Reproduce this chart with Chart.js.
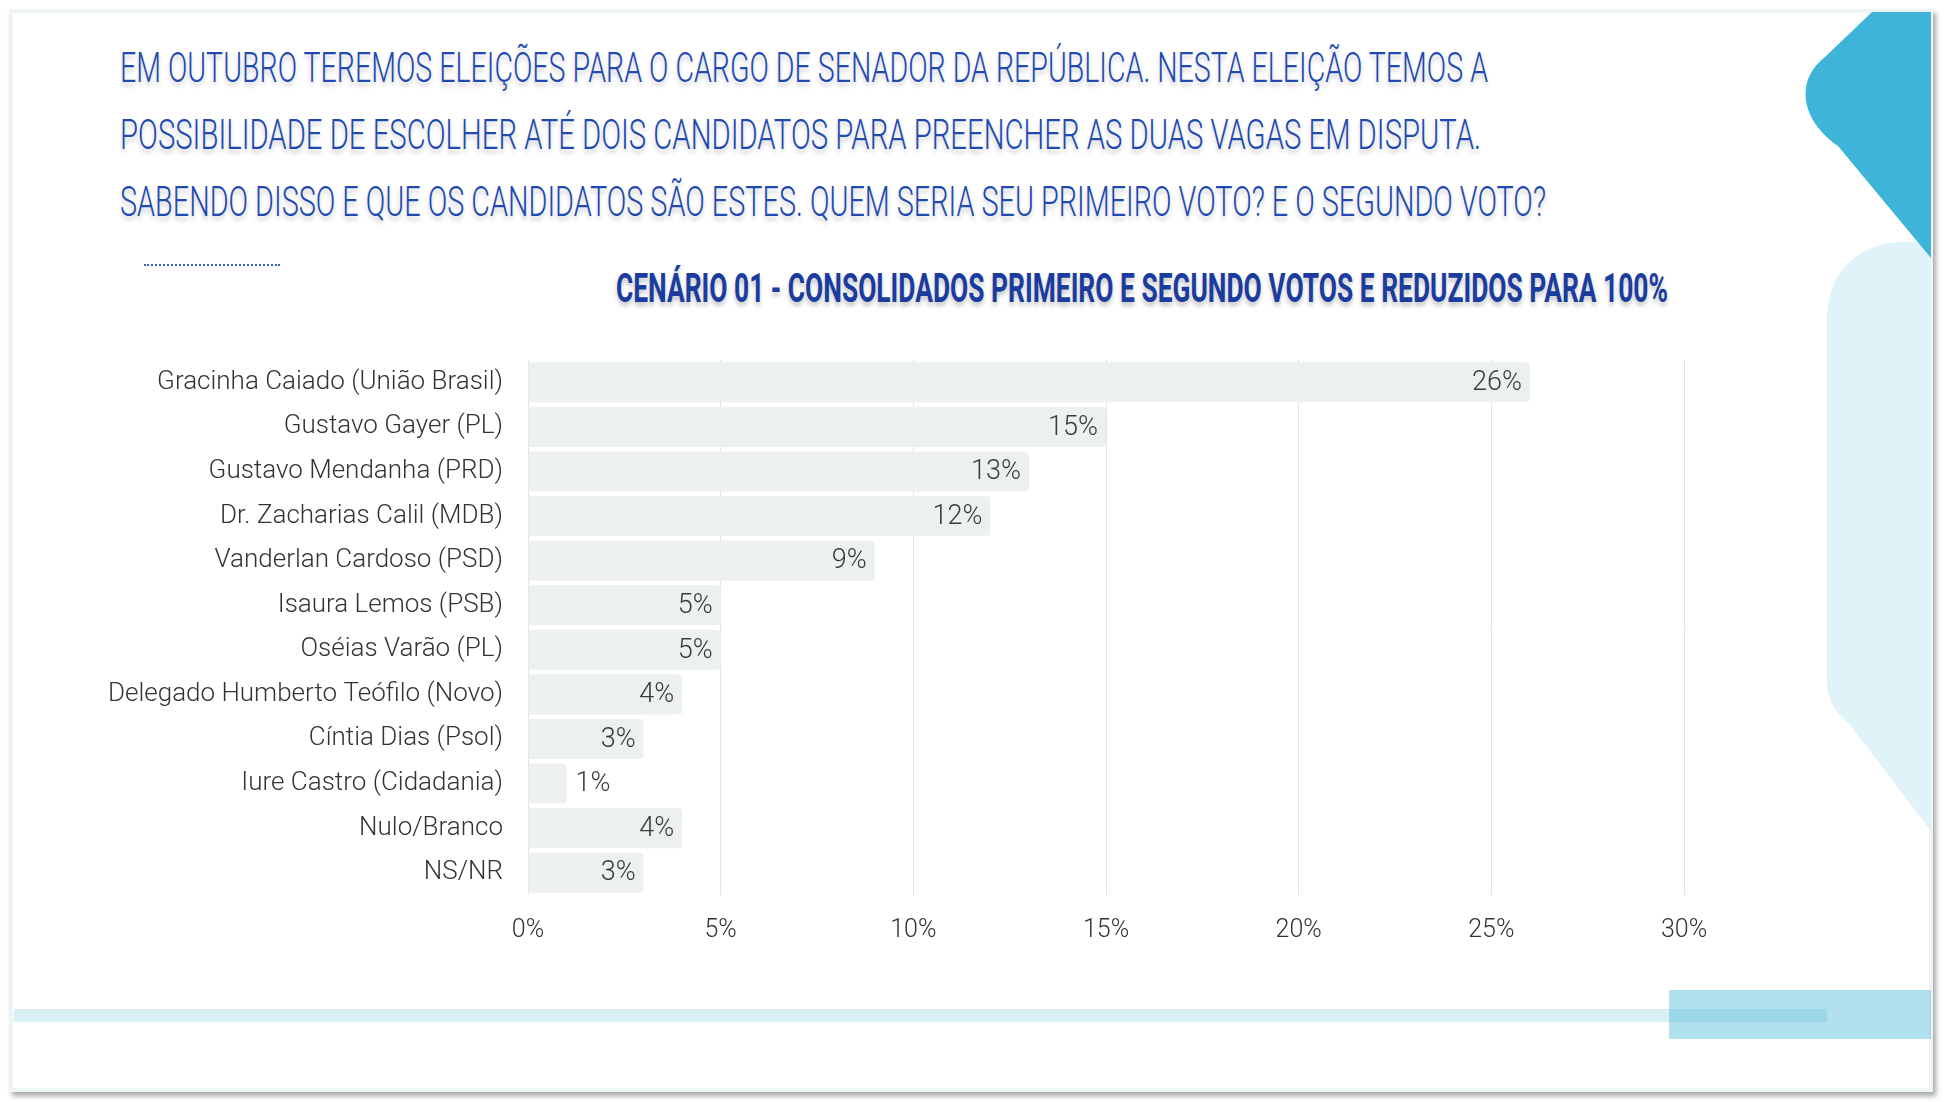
<!DOCTYPE html>
<html>
<head>
<meta charset="utf-8">
<script src="https://cdn.jsdelivr.net/npm/chart.js@4.4.1/dist/chart.umd.min.js"></script>
<style>
    html, body { margin: 0; padding: 0; background: #fff; }
    #page { position: relative; width: 1944px; height: 1102px; overflow: hidden; background: #fff; }
    #slide {
        position: absolute; left: 9px; top: 9px; width: 1916px; height: 1075px;
        border: 4px solid #eef3f5; background: #fff;
        box-shadow: 3px 4px 5px rgba(0, 0, 0, 0.35);
    }
    #deco { position: absolute; left: 0; top: 0; }
    .q {
        position: absolute; left: 120px; white-space: nowrap;
        font-family: "Roboto", "Liberation Sans Narrow", sans-serif;
        font-weight: 300; font-size: 42px; color: #2149b2; line-height: 1;
        text-shadow: 0 4px 5px rgba(0, 0, 0, 0.2);
        transform-origin: 0 50%;
    }
    #titulo {
        position: absolute; white-space: nowrap;
        font-family: "Roboto", "Liberation Sans Narrow", sans-serif;
        font-weight: bold; font-size: 41px; color: #1b3c9f; line-height: 1;
        text-shadow: 0 4px 5px rgba(0, 0, 0, 0.22);
        transform-origin: 0 50%;
    }
    #pontos { position: absolute; left: 144px; top: 264px; width: 136px; border-top: 2px dotted #3c5fc2; }
    #myChart { position: absolute; left: 0; top: 340px; }
</style>
</head>
<body>
<div id="page">
    <div id="slide"></div>
    <svg id="deco" width="1944" height="1102">
        <path d="M1931,242 L1905,242 C1860,242 1827,270 1827,320 L1827,680 C1827,700 1835,712 1850,725 L1931,831 Z" fill="#e0f3f8"/>
        <path d="M1872,12 L1931,12 L1931,258 L1838,146 C1800,120 1795,80 1825,57 Z" fill="#3db4d8"/>
        <rect x="14" y="1009" width="1813" height="13" fill="#d8eff5"/>
        <rect x="1669" y="990" width="262" height="49" fill="rgba(78,186,214,0.44)"/>
    </svg>
    <div class="q" id="l1" data-w="1368" style="top:47px">EM OUTUBRO TEREMOS ELEIÇÕES PARA O CARGO DE SENADOR DA REPÚBLICA. NESTA ELEIÇÃO TEMOS A</div>
    <div class="q" id="l2" data-w="1361" style="top:114px">POSSIBILIDADE DE ESCOLHER ATÉ DOIS CANDIDATOS PARA PREENCHER AS DUAS VAGAS EM DISPUTA.</div>
    <div class="q" id="l3" data-w="1426" style="top:181px">SABENDO DISSO E QUE OS CANDIDATOS SÃO ESTES. QUEM SERIA SEU PRIMEIRO VOTO? E O SEGUNDO VOTO?</div>
    <div id="pontos"></div>
    <div id="titulo" data-w="1052">CENÁRIO 01 - CONSOLIDADOS PRIMEIRO E SEGUNDO VOTOS E REDUZIDOS PARA 100%</div>
    <canvas id="myChart" width="1944" height="620"></canvas>
</div>

<script>
    const candidatos = [
        'Gracinha Caiado (União Brasil)',
        'Gustavo Gayer (PL)',
        'Gustavo Mendanha (PRD)',
        'Dr. Zacharias Calil (MDB)',
        'Vanderlan Cardoso (PSD)',
        'Isaura Lemos (PSB)',
        'Oséias Varão (PL)',
        'Delegado Humberto Teófilo (Novo)',
        'Cíntia Dias (Psol)',
        'Iure Castro (Cidadania)',
        'Nulo/Branco',
        'NS/NR'
    ];
    const votos = [26, 15, 13, 12, 9, 5, 5, 4, 3, 1, 4, 3];
    const xTicks = [0, 5, 10, 15, 20, 25, 30];

    const fonte = 'Roboto, "Liberation Sans Narrow", sans-serif';

    // ajusta a largura das linhas de texto do cabeçalho
    function fit(el) {
        const w = el.getBoundingClientRect().width;
        const alvo = parseFloat(el.dataset.w);
        el.style.transform = 'scaleX(' + (alvo / w) + ')';
    }
    ['l1', 'l2', 'l3'].forEach(id => fit(document.getElementById(id)));
    const tit = document.getElementById('titulo');
    fit(tit);
    tit.style.left = (1142 - 1052 / 2) + 'px';
    tit.style.top = (289 - 21) + 'px';

    // rotulos de valor no fim de cada barra
    const rotulos = {
        id: 'rotulos',
        afterDatasetsDraw(chart) {
            const ctx = chart.ctx;
            const meta = chart.getDatasetMeta(0);
            ctx.save();
            ctx.font = '300 27px ' + fonte;
            ctx.fillStyle = '#3a3a3a';
            ctx.textBaseline = 'middle';
            meta.data.forEach((bar, i) => {
                const txt = votos[i] + '%';
                const tw = ctx.measureText(txt).width;
                const largura = bar.x - bar.base;
                if (largura > tw + 24) {
                    ctx.textAlign = 'right';
                    ctx.fillText(txt, bar.x - 8, bar.y + 1);
                } else {
                    ctx.textAlign = 'left';
                    ctx.fillText(txt, bar.x + 9, bar.y + 1);
                }
            });
            ctx.restore();
        }
    };

    const ctx = document.getElementById('myChart');
    new Chart(ctx, {
        type: 'bar',
        data: {
            labels: candidatos,
            datasets: [{
                data: votos,
                backgroundColor: '#edf0f1',
                borderRadius: { topRight: 4, bottomRight: 4 },
                borderSkipped: 'start',
                barPercentage: 0.9,
                categoryPercentage: 1
            }]
        },
        options: {
            indexAxis: 'y',
            responsive: false,
            animation: false,
            layout: { padding: { top: 20, right: 260, left: 0, bottom: 0 } },
            plugins: {
                legend: { display: false },
                tooltip: { enabled: false }
            },
            scales: {
                x: {
                    min: 0,
                    max: 30,
                    afterFit: s => {
                        s.height = 65;
                        s.paddingLeft = 0;
                        s.paddingRight = 0;
                    },
                    afterBuildTicks: s => { s.ticks = xTicks.map(v => ({ value: v })); },
                    grid: { color: '#e4e4e4', lineWidth: 1, drawTicks: false },
                    border: { display: false },
                    ticks: {
                        padding: 21,
                        color: '#333',
                        font: { family: fonte, size: 25, weight: 300 },
                        callback: v => v + '%'
                    }
                },
                y: {
                    afterFit: s => {
                        s.width = 528;
                        s.paddingTop = 0;
                        s.paddingBottom = 0;
                    },
                    grid: { display: false, drawTicks: false },
                    border: { display: false },
                    ticks: {
                        padding: 25,
                        color: '#333',
                        font: { family: fonte, size: 26, weight: 300 }
                    }
                }
            }
        },
        plugins: [rotulos]
    });
</script>
</body>
</html>
